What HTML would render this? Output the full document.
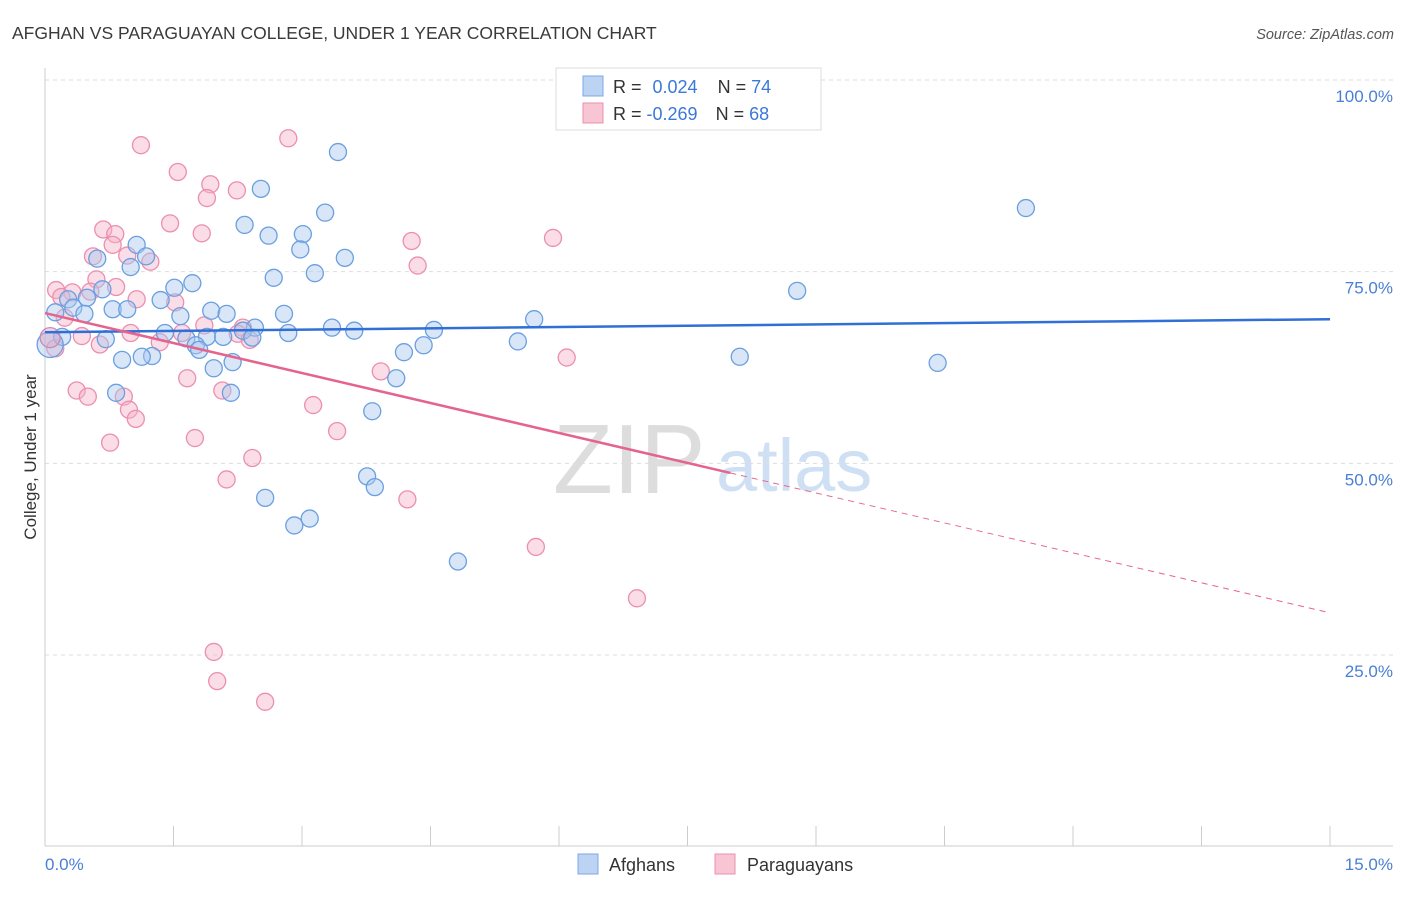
<!DOCTYPE html>
<html><head><meta charset="utf-8"><style>
body{margin:0;background:#fff;font-family:"Liberation Sans",sans-serif;}
svg text{font-family:"Liberation Sans",sans-serif;}
</style></head><body>
<svg id="chart" width="1406" height="892">
<text x="12" y="39" font-size="17.5" fill="#3a3a3a">AFGHAN VS PARAGUAYAN COLLEGE, UNDER 1 YEAR CORRELATION CHART</text>
<text x="1394" y="39" font-size="14.5" fill="#555" font-style="italic" text-anchor="end">Source: ZipAtlas.com</text>
<g>
<text x="553" y="493" font-size="98" fill="#ddd" font-family="Liberation Serif, serif">ZIP</text>
<text x="716" y="491" font-size="74" fill="#cfe0f5">atlas</text>
</g>
<g id="grid"></g>
<g id="axes"></g>
<g id="pts"></g>
<g id="lines"></g>
<text x="36" y="457" font-size="17" fill="#333" text-anchor="middle" transform="rotate(-90 36 457)">College, Under 1 year</text>
<text x="45" y="870" font-size="17" fill="#4a7fd4">0.0%</text>
<text x="1393" y="870" font-size="17" fill="#4a7fd4" text-anchor="end">15.0%</text>
<g>
<rect x="556" y="68" width="265" height="62" fill="#fff" stroke="#ddd"/>
<rect x="583" y="76" width="20" height="20" fill="#bcd3f3" stroke="#7aaae6"/>
<rect x="583" y="103" width="20" height="20" fill="#f8c5d5" stroke="#ec8fae"/>
<text x="613" y="93" font-size="18" fill="#333">R = <tspan fill="#3b78d8" dx="6">0.024</tspan><tspan dx="20">N = </tspan><tspan fill="#3b78d8">74</tspan></text>
<text x="613" y="120" font-size="18" fill="#333">R = <tspan fill="#3b78d8">-0.269</tspan><tspan dx="18">N = </tspan><tspan fill="#3b78d8">68</tspan></text>
</g>
<g>
<rect x="578" y="854" width="20" height="20" fill="#bcd3f3" stroke="#7aaae6"/>
<text x="609" y="871" font-size="18" fill="#333">Afghans</text>
<rect x="715" y="854" width="20" height="20" fill="#f8c5d5" stroke="#ec8fae"/>
<text x="747" y="871" font-size="18" fill="#333">Paraguayans</text>
</g>
</svg>
<script>
const yTicks=[25,50,75,100];
const yTickLabels=["25.0%","50.0%","75.0%","100.0%"];
const xTicks=[0,1.5,3,4.5,6,7.5,9,10.5,12,13.5,15];
const afghanX=[3.42,2.52,11.45,3.27,2.33,2.61,3.01,2.98,1.07,0.61,1.18,3.50,1.00,3.15,2.67,1.72,1.51,0.67,8.78,0.49,0.27,1.35,0.79,0.96,0.33,0.12,0.46,1.58,1.94,2.12,2.79,5.71,3.35,3.61,4.54,2.45,2.31,2.84,1.40,1.89,1.65,2.08,2.42,0.71,0.20,5.52,4.42,1.76,1.80,4.19,1.25,1.13,0.90,2.19,8.11,10.42,1.97,4.10,0.83,2.17,3.82,3.76,3.85,2.57,3.09,2.91,4.82];
const afghanY=[90.6,85.8,83.3,82.7,81.1,79.7,79.9,77.9,78.5,76.7,77.0,76.8,75.6,74.8,74.2,73.5,72.9,72.7,72.5,71.6,71.4,71.3,70.1,70.1,70.3,69.7,69.5,69.2,69.9,69.5,69.5,68.8,67.7,67.3,67.4,67.7,67.3,67.0,67.0,66.5,66.3,66.5,66.4,66.2,66.5,65.9,65.4,65.4,64.8,64.5,64.0,63.9,63.5,63.2,63.9,63.1,62.4,61.1,59.2,59.2,56.8,48.3,46.9,45.5,42.8,41.9,37.2];
const paraX=[2.84,1.12,1.55,1.93,2.24,1.89,1.46,1.83,0.68,0.82,5.93,4.28,0.79,0.56,0.96,1.23,4.35,0.60,0.83,0.13,0.32,0.19,0.53,1.07,1.52,0.23,1.86,2.31,1.60,1.00,0.43,2.25,2.39,0.64,1.34,0.12,6.09,3.92,1.66,0.37,2.07,0.50,0.92,3.13,0.98,1.06,3.41,1.75,0.76,2.42,2.12,4.23,5.73,6.91,1.97,2.01,2.57];
const paraY=[92.4,91.5,88.0,86.4,85.6,84.6,81.3,80.0,80.5,79.9,79.4,79.0,78.5,77.0,77.1,76.3,75.8,74.0,73.0,72.6,72.3,71.7,72.4,71.4,71.0,69.0,68.0,67.7,67.0,67.0,66.6,66.9,66.1,65.5,65.8,65.0,63.8,62.0,61.1,59.5,59.5,58.7,58.7,57.6,57.0,55.8,54.2,53.3,52.7,50.7,47.9,45.3,39.1,32.4,25.4,21.6,18.9];
const bigX=[0.06,0.06];
const bigY=[65.5,66.4];
const afghanTrend=[67.1,68.8];
const paraTrend=[69.6,30.5];
const paraSolidEnd=8.0;

const NS="http://www.w3.org/2000/svg";
const sx=v=>45+v/15*1285;
const sy=v=>846.7-v*7.667;
function mk(tag,attrs,parent){const e=document.createElementNS(NS,tag);for(const k in attrs)e.setAttribute(k,attrs[k]);document.getElementById(parent).appendChild(e);return e;}
yTicks.forEach((t,i)=>{
 const g=mk('line',{x1:45,x2:1393,y1:sy(t),y2:sy(t),stroke:'#ddd','stroke-dasharray':'4,4'},'grid');
 
 
 const l=mk('text',{x:1393,y:sy(t)+22,'font-size':17,fill:'#4a7fd4','text-anchor':'end'},'grid');
 l.textContent=yTickLabels[i];
 
 
});
let a=mk('line',{x1:45,x2:45,y1:68,y2:846,stroke:'#ccc'},'axes');


a=mk('line',{x1:45,x2:1393,y1:846,y2:846,stroke:'#ccc'},'axes');


xTicks.forEach(t=>{
 const k=mk('line',{x1:sx(t),x2:sx(t),y1:826,y2:846,stroke:'#ccc'},'axes');
 
 
});
function dot(x,y,r,fill,stroke,name){
 const c=mk('circle',{cx:sx(x),cy:sy(y),r:r,fill:fill,'fill-opacity':0.45,stroke:stroke,'stroke-width':1.3},'pts');
 
 
}
paraX.forEach((x,i)=>dot(x,paraY[i],8.5,'#f5b3c8','#ec8fae','paraguayan-point'));
afghanX.forEach((x,i)=>dot(x,afghanY[i],8.5,'#a9c8f0','#6a9fe0','afghan-point'));
dot(bigX[0],bigY[0],13,'#a9c8f0','#6a9fe0','afghan-point');
dot(bigX[1],bigY[1],10,'#d9a6c8','#c98ab5','paraguayan-point');
let ln=mk('line',{x1:sx(0),y1:sy(afghanTrend[0]),x2:sx(15),y2:sy(afghanTrend[1]),stroke:'#2f6fd6','stroke-width':2.5},'lines');


const py=x=>paraTrend[0]+(paraTrend[1]-paraTrend[0])*x/15;
ln=mk('line',{x1:sx(0),y1:sy(paraTrend[0]),x2:sx(paraSolidEnd),y2:sy(py(paraSolidEnd)),stroke:'#e4648e','stroke-width':2.5},'lines');


ln=mk('line',{x1:sx(paraSolidEnd),y1:sy(py(paraSolidEnd)),x2:sx(15),y2:sy(paraTrend[1]),stroke:'#e4648e','stroke-width':1,'stroke-dasharray':'6,5'},'lines');


</script>
</body></html>
